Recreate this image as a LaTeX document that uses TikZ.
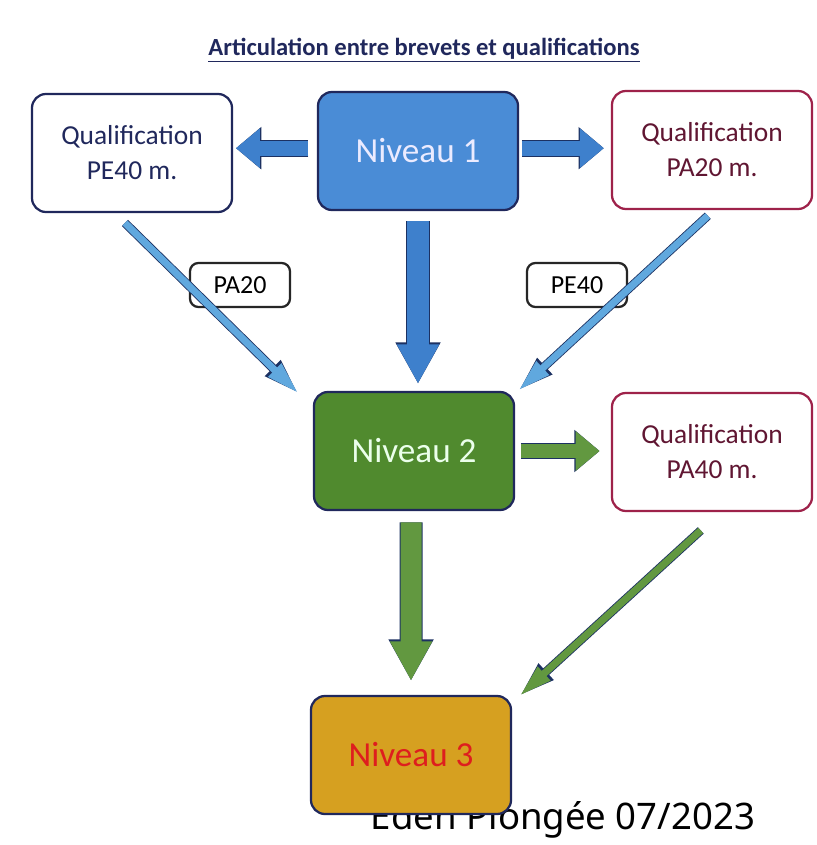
\documentclass[tikz,border=0pt]{standalone}
\usepackage{fontspec}
\setmainfont{Carlito}
\newfontfamily\footfont{Noto Sans}
\usetikzlibrary{arrows.meta}
\usetikzlibrary{positioning}
\definecolor{navy}{RGB}{32,40,92}
\definecolor{lineblue}{RGB}{40,70,140}
\definecolor{niv1}{RGB}{74,140,214}
\definecolor{arrblue}{RGB}{62,128,204}
\definecolor{thinblue}{RGB}{96,168,222}
\definecolor{niv2}{RGB}{80,138,46}
\definecolor{arrgreen}{RGB}{98,152,64}
\definecolor{niv3}{RGB}{214,160,32}
\definecolor{maroon}{RGB}{158,34,74}
\definecolor{maroontext}{RGB}{96,22,50}
\definecolor{redtext}{RGB}{222,30,30}
\tikzset{
  box/.style={rounded corners=10pt, line width=1.6pt, align=center,
    minimum width=5cm, minimum height=2.95cm},
  niveau/.style={box, draw=navy, fill=#1, font=\fontsize{25}{30}\selectfont},
  qual/.style={box, draw=#1, fill=white, font=\fontsize{19.5}{25}\selectfont},
  tag/.style={draw=black!85, rounded corners=6pt, line width=1.6pt, fill=white,
    minimum width=2.5cm, minimum height=1.1cm, font=\fontsize{18.5}{22}\selectfont},
  bigarrow/.style={line width=10.6pt, draw=#1, -{Triangle[width=27pt,length=17pt]},
    preaction={draw=lineblue!70!black, line width=12pt, -{Triangle[width=29pt,length=18pt]}}},
  downarrow/.style={line width=15pt, draw=#1, -{Triangle[width=28pt,length=28pt]},
    preaction={draw=lineblue!70!black, line width=16.4pt, -{Triangle[width=30pt,length=29.5pt]}}},
  thinarrow/.style={line width=5pt, draw=#1, -{Triangle[width=12pt,length=24pt]},
    preaction={draw=lineblue!70!black, line width=6.2pt, -{Triangle[width=14pt,length=26pt]}}}
}
\begin{document}
\begin{tikzpicture}[x=0.025cm,y=-0.025cm]
\useasboundingbox[fill=white] (0,0) rectangle (816,845);

\node[font=\bfseries\fontsize{17.5}{20}\selectfont, text=navy] (title) at (424,50)
  {\underline{Articulation entre brevets et qualifications}};

\node[anchor=base, font=\footfont\fontsize{26}{30}\selectfont] (foot) at (563,829) {Eden Plongée 07/2023};

\node[niveau=niv1, text=white!92!blue] (n1) at (418,151) {Niveau 1};
\node[qual=navy, text=navy] (qpe40) at (132,153) {Qualification\\PE40 m.};
\node[qual=maroon, text=maroontext] (qpa20) at (712,150) {Qualification\\PA20 m.};
\node[tag] (pa20) at (240,285) {PA20};
\node[tag] (pe40) at (577,285) {PE40};
\node[niveau=niv2, text=white!92!green] (n2) at (414,451) {Niveau 2};
\node[qual=maroon, text=maroontext] (qpa40) at (712,452) {Qualification\\PA40 m.};
\node[niveau=niv3, text=redtext] (n3) at (411,755) {Niveau 3};

\coordinate (n1w) at ([xshift=-6pt,yshift=2pt]n1.west);
\coordinate (n1e) at ([xshift=2pt,yshift=2pt]n1.east);
\draw[bigarrow=arrblue] (n1w) -- ([xshift=2pt]n1w -| qpe40.east);
\draw[bigarrow=arrblue] (n1e) -- ([xshift=-5pt]n1e -| qpa20.west);
\draw[downarrow=arrblue] ([yshift=-7pt]n1.south) -- ([yshift=5pt]n1.south |- n2.north);
\draw[thinarrow=thinblue] ([xshift=-5pt,yshift=-7pt]qpe40.south) -- ([xshift=-10pt,yshift=-2pt]n2.north west);
\draw[thinarrow=thinblue] ([xshift=-3pt,yshift=-4pt]qpa20.south) -- ([xshift=2pt]n2.north east);
\draw[bigarrow=arrgreen] ([xshift=4pt]n2.east) -- ([xshift=-8pt]n2.east -| qpa40.west);
\draw[downarrow=arrgreen] ([xshift=-2pt,yshift=-8pt]n2.south) -- ([yshift=10pt]n3.north);
\draw[thinarrow=arrgreen] ([xshift=-8pt,yshift=-13pt]qpa40.south) -- ([xshift=5pt,yshift=-1pt]n3.north east);
\end{tikzpicture}
\end{document}
